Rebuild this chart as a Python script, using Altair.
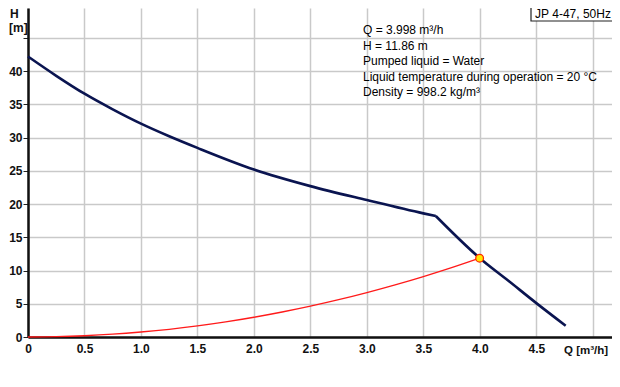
import altair as alt
import pandas as pd

# Pump curve (H vs Q): two segments that meet at the kink
q_pump = [0.0, 0.25, 0.5, 0.75, 1.0, 1.25, 1.5, 2.0, 2.5, 3.0, 3.5, 3.61, 3.61, 4.0, 4.25, 4.5, 4.76]
h_pump = [42.2, 39.3, 36.6, 34.25, 32.1, 30.2, 28.45, 25.2, 22.7, 20.6, 18.6, 18.2, 18.2, 11.86, 8.5, 5.1, 1.7]
seg_pump = ["a"] * 12 + ["b"] * 5

# System curve
q_sys = [0.0, 0.25, 0.5, 0.75, 1.0, 1.25, 1.5, 1.75, 2.0, 2.25, 2.5, 2.75, 3.0, 3.25, 3.5, 3.75, 3.998]
h_sys = [0.0, 0.05, 0.19, 0.42, 0.75, 1.16, 1.67, 2.27, 2.97, 3.76, 4.64, 5.61, 6.68, 7.84, 9.09, 10.43, 11.86]

# Duty point
q_duty = [3.998]
h_duty = [11.86]

x_ticks = [0, 0.5, 1.0, 1.5, 2.0, 2.5, 3.0, 3.5, 4.0, 4.5, 5.0]
y_ticks = [0, 5, 10, 15, 20, 25, 30, 35, 40, 45, 50]

info_lines = [
    "Q = 3.998 m³/h",
    "H = 11.86 m",
    "Pumped liquid = Water",
    "Liquid temperature during operation = 20 °C",
    "Density = 998.2 kg/m³",
]
title_text = "JP 4-47, 50Hz"
x_title = "Q [m³/h]"
y_title_1 = "H"
y_title_2 = "[m]"

FONT = "Liberation Sans"

pump_df = pd.DataFrame({"Q": q_pump, "H": h_pump, "seg": seg_pump})
sys_df = pd.DataFrame({"Q": q_sys, "H": h_sys})
duty_df = pd.DataFrame({"Q": q_duty, "H": h_duty})

xscale = alt.Scale(domain=[0, 5.17], nice=False, zero=False)
yscale = alt.Scale(domain=[0, 49.5], nice=False, zero=False)

xaxis = alt.Axis(
    values=x_ticks, title=None, grid=True, gridColor="#c9c9c9", gridWidth=1.5,
    domainColor="#111111", domainWidth=2.5, ticks=False, labelPadding=6,
    labelExpr="datum.value == 0 ? '0' : (datum.value >= 5 ? '' : format(datum.value, '.1f'))",
    labelFont=FONT, labelFontSize=12, labelFontWeight="bold", labelColor="#111111",
    labelFlush=False, labelOverlap=False,
)
yaxis = alt.Axis(
    values=y_ticks, title=None, grid=True, gridColor="#c9c9c9", gridWidth=1.5,
    domainColor="#111111", domainWidth=2.5, ticks=True, tickSize=5, tickColor="#222222",
    tickWidth=1, labelPadding=1,
    labelExpr="datum.value >= 45 ? '' : format(datum.value, 'd')",
    labelFont=FONT, labelFontSize=12, labelFontWeight="bold", labelColor="#111111",
    labelFlush=False, labelOverlap=False,
)

X = alt.X("Q:Q", scale=xscale, axis=xaxis)
Y = alt.Y("H:Q", scale=yscale, axis=yaxis)

pump = alt.Chart(pump_df).mark_line(
    color="#0a1450", strokeWidth=2.6, interpolate="monotone"
).encode(x=X, y=Y, detail="seg:N", order=alt.Order("Q:Q"))

system = alt.Chart(sys_df).mark_line(
    color="#ff1a1a", strokeWidth=1.3, interpolate="monotone"
).encode(x=X, y=Y)

duty = alt.Chart(duty_df).mark_point(
    filled=True, fill="#ffe800", stroke="#ff2a00", strokeWidth=1.3, size=60, opacity=1
).encode(x=X, y=Y)

one = pd.DataFrame({"a": [0]})

info = alt.Chart(one).mark_text(
    text=info_lines, align="left", baseline="top", font=FONT, fontSize=12,
    lineHeight=15.6, color="#000000"
).encode(x=alt.value(335), y=alt.value(17))

box = alt.Chart(one).mark_rect(
    fill="white", stroke="#222222", strokeWidth=1.2
).encode(x=alt.value(503), x2=alt.value(600), y=alt.value(-2), y2=alt.value(13))

box_text = alt.Chart(one).mark_text(
    text=title_text, align="center", baseline="middle", font=FONT, fontSize=12, color="#000000"
).encode(x=alt.value(545), y=alt.value(6))

xlab = alt.Chart(one).mark_text(
    text=x_title, align="left", baseline="middle", font=FONT, fontSize=11.5,
    fontWeight="bold", color="#111111"
).encode(x=alt.value(536), y=alt.value(343))

ylab1 = alt.Chart(one).mark_text(
    text=y_title_1, align="left", baseline="middle", font=FONT, fontSize=12,
    fontWeight="bold", color="#111111"
).encode(x=alt.value(-18), y=alt.value(6))

ylab2 = alt.Chart(one).mark_text(
    text=y_title_2, align="left", baseline="middle", font=FONT, fontSize=12,
    fontWeight="bold", color="#111111"
).encode(x=alt.value(-19), y=alt.value(20))

chart = alt.layer(system, pump, duty, info, box, box_text, xlab, ylab1, ylab2).properties(
    width=584, height=329,
    autosize=alt.AutoSizeParams(type="none"),
    padding={"left": 20, "top": 0, "right": 0, "bottom": 42},
    background="white",
).configure_view(stroke=None)

chart.save("out.html", embed_options={"renderer": "svg", "actions": False})
